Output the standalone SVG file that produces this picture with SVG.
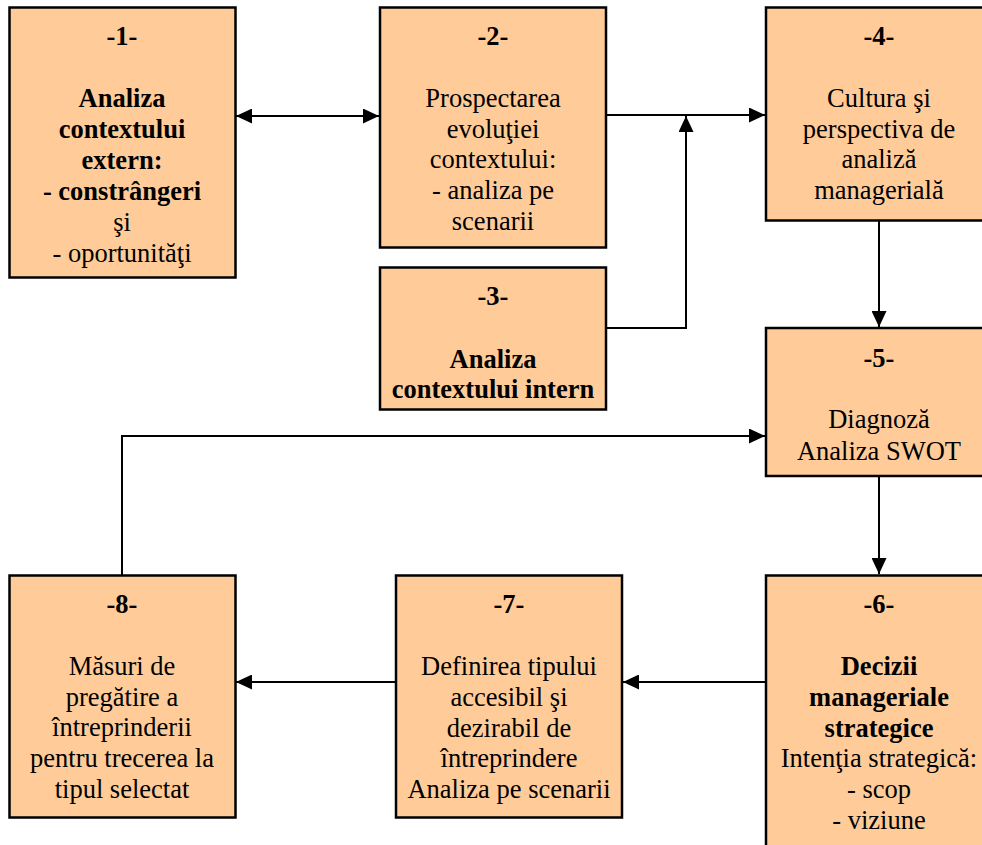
<svg xmlns="http://www.w3.org/2000/svg" width="982" height="845" viewBox="0 0 982 845">
<defs>
<style>
.box{fill:#FFCC99;stroke:#000;stroke-width:2.5}
.t text{font-size:26.5px;fill:#000;text-anchor:middle}
.b{font-weight:bold}
.c{fill:none;stroke:#000;stroke-width:2}
</style>
<marker id="ah" markerUnits="userSpaceOnUse" markerWidth="16" markerHeight="15" refX="16" refY="7.5" orient="auto-start-reverse">
<path d="M0,0 L16,7.5 L0,15 z" fill="#000"/>
</marker>
</defs>
<rect width="982" height="845" fill="#fff"/>
<g id="connectors">
<line class="c" x1="236" y1="116" x2="379" y2="116" marker-start="url(#ah)" marker-end="url(#ah)"/>
<line class="c" x1="606" y1="115" x2="765" y2="115" marker-end="url(#ah)"/>
<polyline class="c" points="606,328 686,328 686,116" marker-end="url(#ah)"/>
<line class="c" x1="879" y1="221" x2="879" y2="327" marker-end="url(#ah)"/>
<line class="c" x1="879" y1="476" x2="879" y2="574" marker-end="url(#ah)"/>
<line class="c" x1="766" y1="682" x2="623" y2="682" marker-end="url(#ah)"/>
<line class="c" x1="396" y1="682" x2="236" y2="682" marker-end="url(#ah)"/>
<polyline class="c" points="122,575 122,436 765,436" marker-end="url(#ah)"/>
</g>
<g class="t" font-family="'Liberation Serif', 'Times New Roman', 'DejaVu Serif', serif">
<g id="node1">
<rect class="box" x="9.5" y="7.5" width="226" height="270"/>
<text class="b" x="122" y="45">-1-</text>
<text class="b" x="122" y="107">Analiza</text>
<text class="b" x="122" y="138">contextului</text>
<text class="b" x="122" y="169">extern:</text>
<text class="b" x="122" y="200">- constrângeri</text>
<text x="122" y="231">şi</text>
<text x="122" y="262">- oportunităţi</text>
</g>
<g id="node2">
<rect class="box" x="380" y="7.5" width="226" height="240"/>
<text class="b" x="493" y="45">-2-</text>
<text x="493" y="107">Prospectarea</text>
<text x="493" y="138">evoluţiei</text>
<text x="493" y="168">contextului:</text>
<text x="493" y="199">- analiza pe</text>
<text x="493" y="230">scenarii</text>
</g>
<g id="node3">
<rect class="box" x="380" y="267.5" width="226" height="142"/>
<text class="b" x="493" y="305">-3-</text>
<text class="b" x="493" y="368">Analiza</text>
<text class="b" x="493" y="398">contextului intern</text>
</g>
<g id="node4">
<rect class="box" x="766" y="7.5" width="226" height="213"/>
<text class="b" x="879" y="45">-4-</text>
<text x="879" y="107">Cultura şi</text>
<text x="879" y="138">perspectiva de</text>
<text x="879" y="168">analiză</text>
<text x="879" y="199">managerială</text>
</g>
<g id="node5">
<rect class="box" x="766" y="328" width="226" height="148"/>
<text class="b" x="879" y="367">-5-</text>
<text x="879" y="428">Diagnoză</text>
<text x="879" y="460">Analiza SWOT</text>
</g>
<g id="node6">
<rect class="box" x="766" y="575.5" width="226" height="290"/>
<text class="b" x="879" y="613">-6-</text>
<text class="b" x="879" y="675">Decizii</text>
<text class="b" x="879" y="706">manageriale</text>
<text class="b" x="879" y="737">strategice</text>
<text x="879" y="767">Intenţia strategică:</text>
<text x="879" y="798">- scop</text>
<text x="879" y="829">- viziune</text>
</g>
<g id="node7">
<rect class="box" x="396" y="575.5" width="226" height="242"/>
<text class="b" x="509" y="613">-7-</text>
<text x="509" y="675">Definirea tipului</text>
<text x="509" y="706">accesibil şi</text>
<text x="509" y="737">dezirabil de</text>
<text x="509" y="767">întreprindere</text>
<text x="509" y="798">Analiza pe scenarii</text>
</g>
<g id="node8">
<rect class="box" x="9.5" y="575.5" width="226" height="242"/>
<text class="b" x="122" y="613">-8-</text>
<text x="122" y="675">Măsuri de</text>
<text x="122" y="706">pregătire a</text>
<text x="122" y="736">întreprinderii</text>
<text x="122" y="767">pentru trecerea la</text>
<text x="122" y="798">tipul selectat</text>
</g>
</g>
</svg>
